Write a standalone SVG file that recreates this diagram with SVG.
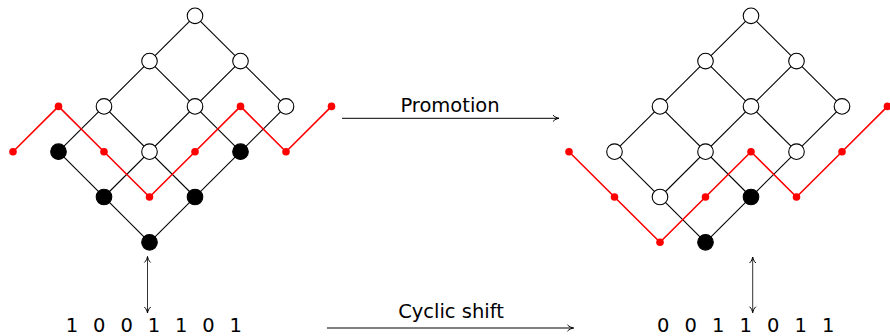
<svg xmlns="http://www.w3.org/2000/svg" width="890" height="336" viewBox="0 0 890 336">
<style>
.edge{stroke:#000;stroke-width:1.1;fill:none}
.wn{fill:#fff;stroke:#000;stroke-width:1.1}
.bn{fill:#000;stroke:#000;stroke-width:1.1}
.red{stroke:#ff0000;stroke-width:1.6;fill:none;stroke-linejoin:round}
.rd{fill:#ff0000}
.arr{stroke:#000;stroke-width:1;fill:none}
.varr{stroke:#333;stroke-width:1;fill:none}
.lbl{font-family:"DejaVu Sans",sans-serif;font-size:19.5px;fill:#000}
</style>
<defs>
<marker id="to" viewBox="-8 -5 10 10" refX="0" refY="0" markerWidth="10" markerHeight="10" markerUnits="userSpaceOnUse" orient="auto-start-reverse">
<path d="M-6,-3.2 C-4.5,-1.2 -1.5,-0.3 0,0 C-1.5,0.3 -4.5,1.2 -6,3.2" fill="none" stroke="#000" stroke-width="1"/>
</marker>
</defs>
<g id="connectors">
<g id="left-edges">
<line class="edge" x1="149.5" y1="242.3" x2="286" y2="106.4"/>
<line class="edge" x1="104" y1="197" x2="240.5" y2="61.1"/>
<line class="edge" x1="58.5" y1="151.7" x2="195" y2="15.8"/>
<line class="edge" x1="149.5" y1="242.3" x2="58.5" y2="151.7"/>
<line class="edge" x1="195" y1="197" x2="104" y2="106.4"/>
<line class="edge" x1="240.5" y1="151.7" x2="149.5" y2="61.1"/>
<line class="edge" x1="286" y1="106.4" x2="195" y2="15.8"/>
</g>
<g id="right-edges">
<line class="edge" x1="705.5" y1="242.3" x2="842" y2="106.4"/>
<line class="edge" x1="660" y1="197" x2="796.5" y2="61.1"/>
<line class="edge" x1="614.5" y1="151.7" x2="751" y2="15.8"/>
<line class="edge" x1="705.5" y1="242.3" x2="614.5" y2="151.7"/>
<line class="edge" x1="751" y1="197" x2="660" y2="106.4"/>
<line class="edge" x1="796.5" y1="151.7" x2="705.5" y2="61.1"/>
<line class="edge" x1="842" y1="106.4" x2="751" y2="15.8"/>
</g>
<line id="promotion-arrow" class="arr" x1="342" y1="118.3" x2="559" y2="118.3" marker-end="url(#to)"/>
<line id="shift-arrow" class="arr" x1="327" y1="328" x2="573.5" y2="328" marker-end="url(#to)"/>
<line id="left-vertical" class="varr" x1="147.5" y1="256.5" x2="147.5" y2="313" marker-start="url(#to)" marker-end="url(#to)"/>
<line id="right-vertical" class="varr" x1="752.7" y1="257" x2="752.7" y2="312.7" marker-start="url(#to)" marker-end="url(#to)"/>
</g>
<g id="left-lattice">
<g id="L00"><circle class="bn" cx="149.5" cy="242.3" r="7.8"/></g>
<g id="L11a"><circle class="bn" cx="104" cy="197" r="7.8"/></g>
<g id="L11b"><circle class="bn" cx="195" cy="197" r="7.8"/></g>
<g id="L22a"><circle class="bn" cx="58.5" cy="151.7" r="7.8"/></g>
<g id="L22b"><circle class="wn" cx="149.5" cy="151.7" r="7.8"/></g>
<g id="L22c"><circle class="bn" cx="240.5" cy="151.7" r="7.8"/></g>
<g id="L33a"><circle class="wn" cx="104" cy="106.4" r="7.8"/></g>
<g id="L33b"><circle class="wn" cx="195" cy="106.4" r="7.8"/></g>
<g id="L33c"><circle class="wn" cx="286" cy="106.4" r="7.8"/></g>
<g id="L44a"><circle class="wn" cx="149.5" cy="61.1" r="7.8"/></g>
<g id="L44b"><circle class="wn" cx="240.5" cy="61.1" r="7.8"/></g>
<g id="L55"><circle class="wn" cx="195" cy="15.8" r="7.8"/></g>
</g>
<g id="right-lattice">
<g id="R00"><circle class="bn" cx="705.5" cy="242.3" r="7.8"/></g>
<g id="R11a"><circle class="wn" cx="660" cy="197" r="7.8"/></g>
<g id="R11b"><circle class="bn" cx="751" cy="197" r="7.8"/></g>
<g id="R22a"><circle class="wn" cx="614.5" cy="151.7" r="7.8"/></g>
<g id="R22b"><circle class="wn" cx="705.5" cy="151.7" r="7.8"/></g>
<g id="R22c"><circle class="wn" cx="796.5" cy="151.7" r="7.8"/></g>
<g id="R33a"><circle class="wn" cx="660" cy="106.4" r="7.8"/></g>
<g id="R33b"><circle class="wn" cx="751" cy="106.4" r="7.8"/></g>
<g id="R33c"><circle class="wn" cx="842" cy="106.4" r="7.8"/></g>
<g id="R44a"><circle class="wn" cx="705.5" cy="61.1" r="7.8"/></g>
<g id="R44b"><circle class="wn" cx="796.5" cy="61.1" r="7.8"/></g>
<g id="R55"><circle class="wn" cx="751" cy="15.8" r="7.8"/></g>
</g>
<g id="left-path">
<polyline class="red" points="13,151.7 58.5,106.4 104,151.7 149.5,197 195,151.7 240.5,106.4 286,151.7 331.5,106.4"/>
<circle class="rd" cx="13" cy="151.7" r="3.8"/>
<circle class="rd" cx="58.5" cy="106.4" r="3.8"/>
<circle class="rd" cx="104" cy="151.7" r="3.8"/>
<circle class="rd" cx="149.5" cy="197" r="3.8"/>
<circle class="rd" cx="195" cy="151.7" r="3.8"/>
<circle class="rd" cx="240.5" cy="106.4" r="3.8"/>
<circle class="rd" cx="286" cy="151.7" r="3.8"/>
<circle class="rd" cx="331.5" cy="106.4" r="3.8"/>
</g>
<g id="right-path">
<polyline class="red" points="569,151.7 614.5,197 660,242.3 705.5,197 751,151.7 796.5,197 842,151.7 887.5,106.4"/>
<circle class="rd" cx="569" cy="151.7" r="3.8"/>
<circle class="rd" cx="614.5" cy="197" r="3.8"/>
<circle class="rd" cx="660" cy="242.3" r="3.8"/>
<circle class="rd" cx="705.5" cy="197" r="3.8"/>
<circle class="rd" cx="751" cy="151.7" r="3.8"/>
<circle class="rd" cx="796.5" cy="197" r="3.8"/>
<circle class="rd" cx="842" cy="151.7" r="3.8"/>
<circle class="rd" cx="887.5" cy="106.4" r="3.8"/>
</g>
<g id="labels">
<text id="promotion-label" class="lbl" x="450" y="111.7" text-anchor="middle">Promotion</text>
<text id="shift-label" class="lbl" x="451" y="317.7" text-anchor="middle">Cyclic shift</text>
<text id="left-word" class="lbl" x="72 99.3 126.6 153.9 181.2 208.5 235.8" y="332" text-anchor="middle">1001101</text>
<text id="right-word" class="lbl" x="663.3 690.8 718.3 745.8 773.3 800.8 828.3" y="332" text-anchor="middle">0011011</text>
</g>
</svg>
